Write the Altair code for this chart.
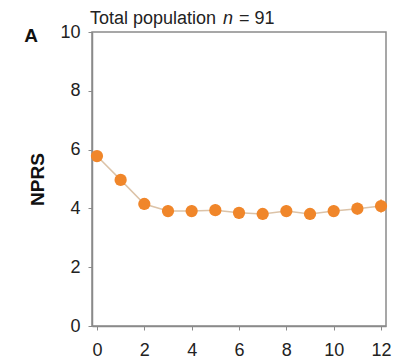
import altair as alt
import pandas as pd

months = [0, 1, 2, 3, 4, 5, 6, 7, 8, 9, 10, 11, 12]
nprs = [5.78, 4.97, 4.15, 3.91, 3.91, 3.94, 3.85, 3.81, 3.91, 3.81, 3.91, 3.99, 4.08]
err = [0.15, 0.18, 0.2, 0.2, 0.2, 0.2, 0.2, 0.2, 0.2, 0.2, 0.2, 0.2, 0.22]

df = pd.DataFrame({"month": months, "nprs": nprs, "err": err})
df["lo"] = df["nprs"] - df["err"]
df["hi"] = df["nprs"] + df["err"]

ORANGE = "#F0862A"
xs = alt.Scale(domain=[-0.21, 12.21], nice=False, zero=False)
ys = alt.Scale(domain=[0, 10], nice=False)

x = alt.X("month:Q", scale=xs,
          axis=alt.Axis(values=list(range(13)), title=None,
                        labelExpr="datum.value % 2 == 0 ? datum.label : ''",
                        grid=False, tickSize=4, labelPadding=11))
y = alt.Y("nprs:Q", scale=ys,
          axis=alt.Axis(values=[0, 2, 4, 6, 8, 10], title="NPRS", grid=False,
                        tickSize=4, labelPadding=8, titlePadding=12,
                        titleFontSize=19, titleFontWeight="bold", titleColor="#111"))

base = alt.Chart(df)
line = base.mark_line(color="#DCC3A8", strokeWidth=1.5).encode(x=x, y=y)
bars = base.mark_rule(color=ORANGE, strokeWidth=1.5).encode(
    x="month:Q", y=alt.Y("lo:Q", scale=ys), y2="hi:Q")
pts = base.mark_circle(color=ORANGE, opacity=1, size=150).encode(x="month:Q", y="nprs:Q")

tdf = pd.DataFrame({"t": ["x"]})
t1 = alt.Chart(tdf).mark_text(text="Total population", align="left", baseline="alphabetic",
                              fontSize=18, font="Liberation Sans", color="#222").encode(
    x=alt.value(-2), y=alt.value(-8))
t2 = alt.Chart(tdf).mark_text(text="n", align="left", baseline="alphabetic", fontStyle="italic",
                              fontSize=18, font="Liberation Sans", color="#222").encode(
    x=alt.value(131), y=alt.value(-8))
t3 = alt.Chart(tdf).mark_text(text="= 91", align="left", baseline="alphabetic",
                              fontSize=18, font="Liberation Sans", color="#222").encode(
    x=alt.value(147), y=alt.value(-8))
tA = alt.Chart(tdf).mark_text(text="A", align="center", baseline="middle", fontWeight="bold",
                              fontSize=19, font="Liberation Sans", color="#111").encode(
    x=alt.value(-61), y=alt.value(4))

chart = alt.layer(line, bars, pts, t1, t2, t3, tA).properties(
    width=294, height=294,
    autosize=alt.AutoSizeParams(type="none"),
    padding={"left": 92, "top": 32, "right": 21, "bottom": 36},
).configure_view(stroke="#8a8a8a", strokeWidth=1.5).configure_axis(
    domainColor="#8a8a8a", domainWidth=1.5, tickColor="#8a8a8a",
    labelFont="Liberation Sans", titleFont="Liberation Sans",
    labelFontSize=18, labelColor="#222"
)

chart.save("out.html", embed_options={"renderer": "svg", "actions": False})
